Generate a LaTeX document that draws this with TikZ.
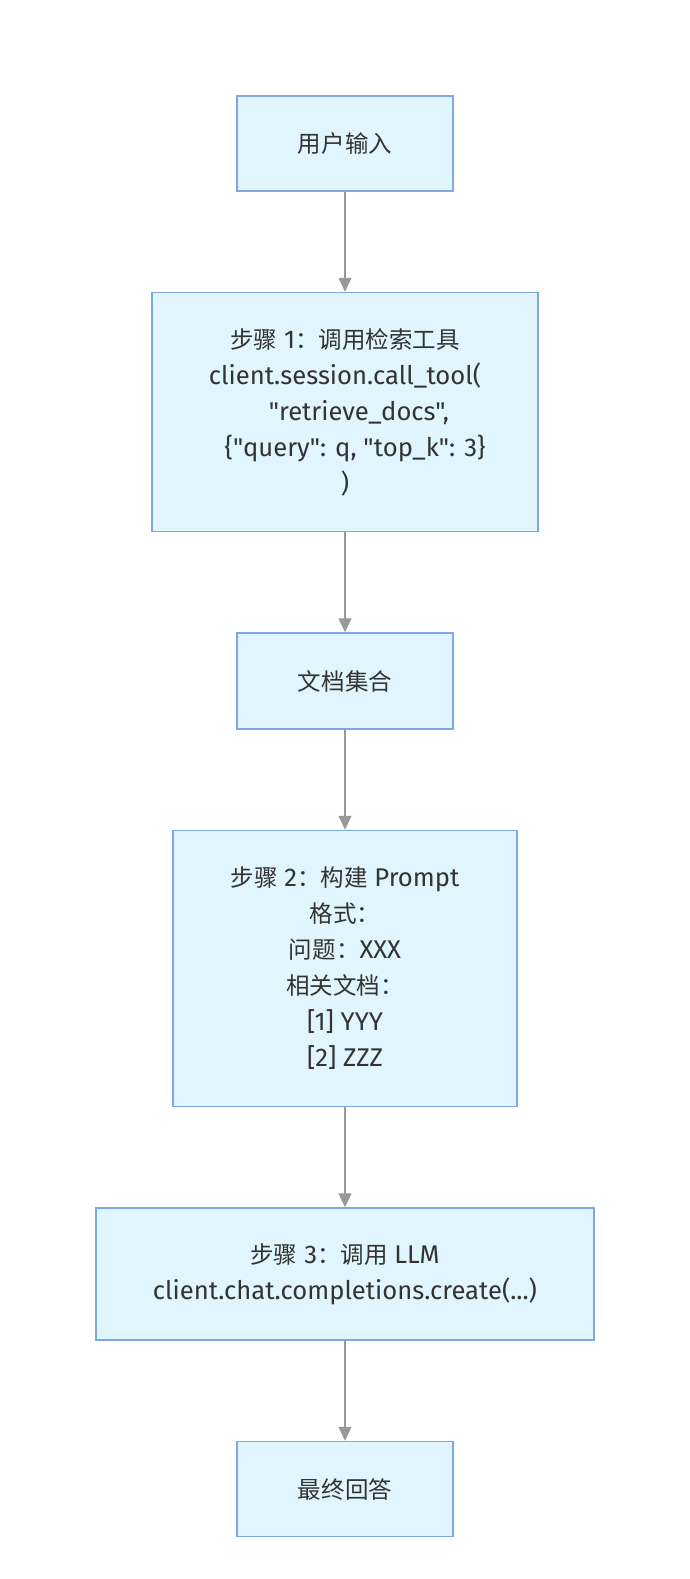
\documentclass[tikz,border=0pt]{standalone}
\usepackage{fontspec}
\setmainfont{Fira Sans}[Scale=1.22, Ligatures=TeXOff]
\newfontfamily\cjk{Noto Sans CJK SC}[Scale=1.12]
\usetikzlibrary{positioning,arrows.meta}
\definecolor{boxfill}{HTML}{E1F5FE}
\definecolor{boxline}{HTML}{7EA7E6}
\definecolor{linkgray}{HTML}{999999}
\definecolor{textgray}{HTML}{333333}

\begin{document}
\begin{tikzpicture}[
    x=1pt, y=1pt,
    node distance=100pt,
    box/.style={rectangle, draw=boxline, line width=1.5pt, fill=boxfill, align=center, text=textgray, font=\fontsize{21}{36}\selectfont},
    arrow/.style={-{Triangle[length=14pt,width=13pt]}, draw=linkgray, line width=1.3pt}
]
    \useasboundingbox (0,0) rectangle (690,-1579);

    \node[box, minimum width=216pt, minimum height=95pt] (input) at (345,-143.5) {{\cjk 用户输入}};
    \node[box, below=of input, minimum width=386pt, minimum height=239pt] (retrieve) {{\cjk 步骤} 1{\cjk ：调用检索工具} \\ client.session.call\_tool( \\ \hspace*{28pt}"retrieve\_docs", \\ \hspace*{20pt}\{"query": q, "top\_k": 3\} \\ )};
    \node[box, below=of retrieve, minimum width=216pt, minimum height=96pt] (docs) {{\cjk 文档集合}};
    \node[box, below=of docs, minimum width=344pt, minimum height=276pt] (prompt) {{\cjk 步骤} 2{\cjk ：构建} Prompt \\ {\cjk 格式：} \\ {\cjk 问题：}XXX \\ {\cjk 相关文档：} \\ {[1]} YYY \\ {[2]} ZZZ};
    \node[box, below=of prompt, minimum width=498pt, minimum height=132pt] (llm) {{\cjk 步骤} 3{\cjk ：调用} LLM \\ client.chat.completions.create(...)};
    \node[box, below=of llm, minimum width=216pt, minimum height=95pt] (answer) {{\cjk 最终回答}};

    \draw[arrow] (input) -- (retrieve);
    \draw[arrow] (retrieve) -- (docs);
    \draw[arrow] (docs) -- (prompt);
    \draw[arrow] (prompt) -- (llm);
    \draw[arrow] (llm) -- (answer);
\end{tikzpicture}
\end{document}
